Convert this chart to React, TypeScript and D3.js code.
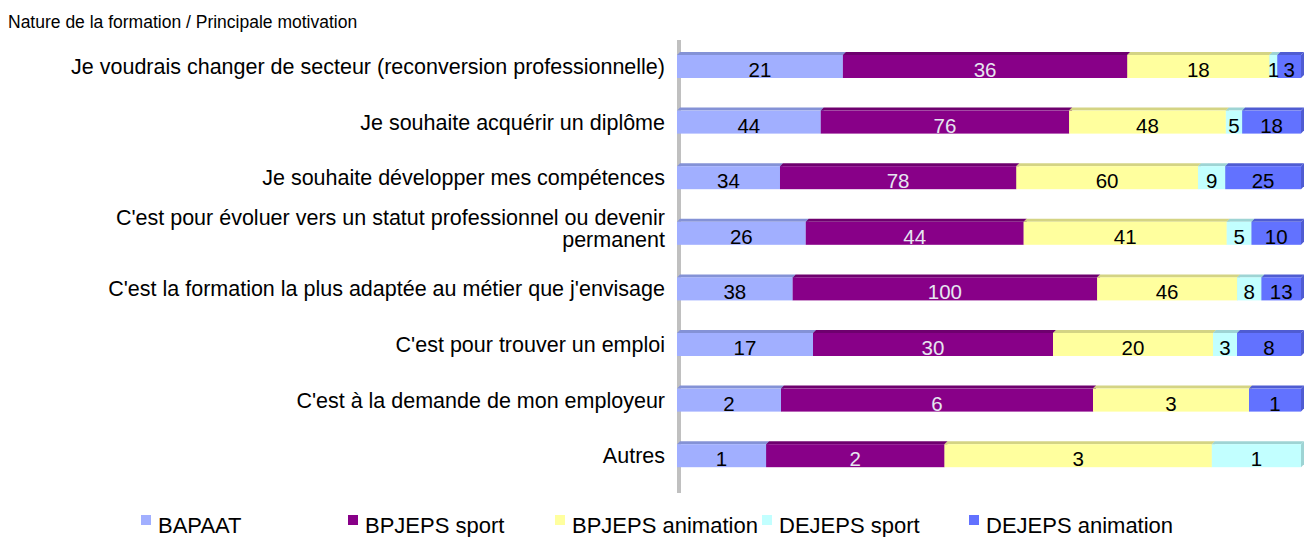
import React from "react";
import * as d3 from "d3";

const categories = [
  "Je voudrais changer de secteur (reconversion professionnelle)",
  "Je souhaite acquérir un diplôme",
  "Je souhaite développer mes compétences",
  "C'est pour évoluer vers un statut professionnel ou devenir|permanent",
  "C'est la formation la plus adaptée au métier que j'envisage",
  "C'est pour trouver un emploi",
  "C'est à la demande de mon employeur",
  "Autres",
];

const seriesNames = ["BAPAAT", "BPJEPS sport", "BPJEPS animation", "DEJEPS sport", "DEJEPS animation"];

const bapaat = [21, 44, 34, 26, 38, 17, 2, 1];
const bpjepsSport = [36, 76, 78, 44, 100, 30, 6, 2];
const bpjepsAnimation = [18, 48, 60, 41, 46, 20, 3, 3];
const dejepsSport = [1, 5, 9, 5, 8, 3, 0, 1];
const dejepsAnimation = [3, 18, 25, 10, 13, 8, 1, 0];

const seriesValues = [bapaat, bpjepsSport, bpjepsAnimation, dejepsSport, dejepsAnimation];

const frontColors = ["#A1AFFF", "#880088", "#FFFF9E", "#C2FFFF", "#6272FF"];
const topColors = ["#8492D6", "#6E006E", "#D4D484", "#9ED4D4", "#4F5CD2"];
const labelColors = ["#000", "#E6E6F0", "#000", "#000", "#000"];

const W = 1306;
const H = 537;
const FONT = "'Liberation Sans', Arial, sans-serif";

export default function App() {
  const x = d3.scaleLinear().domain([0, 1]).range([677, 1301]);
  const step = 55.6;
  const barH = 26;
  const pad = 1 - barH / step;
  const y = d3
    .scaleBand<number>()
    .domain(d3.range(categories.length))
    .range([37.2, 37.2 + categories.length * step])
    .paddingInner(pad)
    .paddingOuter(pad / 2);
  const bh = y.bandwidth();
  const d = 3;

  const rows = categories.map((cat, i) => {
    const vals = seriesValues.map((s) => s[i]);
    const total = d3.sum(vals);
    let cum = 0;
    const segs = vals.map((v, k) => {
      const x0 = x(cum / total);
      cum += v;
      const x1 = x(cum / total);
      return { v, k, x0, x1 };
    });
    return { cat, segs, top: y(i) as number };
  });

  return (
    <svg width={W} height={H} style={{ position: "absolute", left: 0, top: 0, fontFamily: FONT }}>
      <text x={8} y={28} fontSize={17.5} fill="#000">Nature de la formation / Principale motivation</text>
      <rect x={677} y={40} width={4} height={453} fill="#C0C0C0" />
      {rows.map((r, i) => {
        const lines = r.cat.split("|");
        const center = r.top + bh / 2;
        return (
          <g key={i}>
            {lines.map((ln, j) => (
              <text key={j} x={665} y={lines.length === 1 ? center + 9 : center - 7 + j * 22} textAnchor="end" fontSize={21.5} fill="#000">
                {ln}
              </text>
            ))}
            {r.segs.filter((s) => s.v > 0).map((s) => {
              const t = r.top;
              return (
                <g key={s.k}>
                  <polygon
                    points={`${s.x1},${t + d} ${s.x1 + d},${t} ${s.x1 + d},${t + bh - d} ${s.x1},${t + bh}`}
                    fill={topColors[s.k]}
                  />
                  <polygon
                    points={`${s.x0},${t + d} ${s.x0 + d},${t} ${s.x1 + d},${t} ${s.x1},${t + d}`}
                    fill={topColors[s.k]}
                  />
                  <rect x={s.x0} y={t + d} width={s.x1 - s.x0} height={bh - d} fill={frontColors[s.k]} />
                </g>
              );
            })}
            {r.segs.filter((s) => s.v > 0).map((s) => (
              <text key={"l" + s.k} x={(s.x0 + s.x1) / 2} y={r.top + bh - 1} textAnchor="middle" fontSize={20.5} fill={labelColors[s.k]}>
                {s.v}
              </text>
            ))}
          </g>
        );
      })}
      {seriesNames.map((n, k) => {
        const lx = 141 + k * 207;
        return (
          <g key={n}>
            <rect x={lx} y={515} width={10} height={10} fill={frontColors[k]} />
            <text x={lx + 17} y={533} fontSize={22} fill="#000">{n}</text>
          </g>
        );
      })}
    </svg>
  );
}
